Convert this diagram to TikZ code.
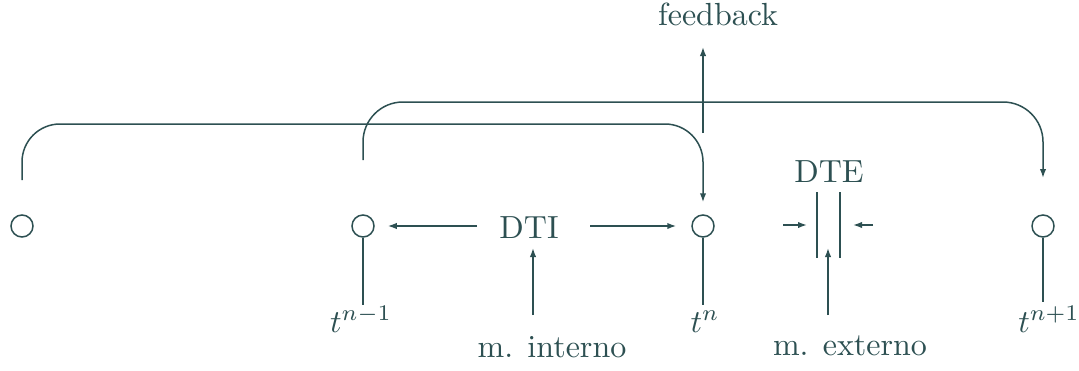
\documentclass[tikz,border=0pt]{standalone}
\usetikzlibrary{arrows.meta}
\definecolor{ink}{RGB}{45,80,82}
\begin{document}
\begin{tikzpicture}[x=0.5pt,y=-0.5pt,
  line width=0.75pt, draw=ink, text=ink,
  pt/.style={circle,draw=ink,minimum size=11pt,inner sep=0pt},
  lbl/.style={font=\normalsize,scale=1.6,inner sep=0pt,anchor=base},
  arr/.style={-{Latex[length=4.5pt,width=3.2pt]}}]
\useasboundingbox (0,0) rectangle (1079,370);
% time points
\node[pt] (c0) at (22,226) {};
\node[pt] (c1) at (363,226) {};
\node[pt] (c2) at (703,226) {};
\node[pt] (c3) at (1043,226) {};
% labels
\node[lbl] (t1) at (361,332) {$t^{n-1}$};
\node[lbl] (t2) at (705,332) {$t^{n}$};
\node[lbl] (t3) at (1049,332) {$t^{n+1}$};
\node[lbl] (dti) at (529,238) {DTI};
\node[lbl] (dte) at (829,182) {DTE};
\node[lbl] (mi) at (552,357) {m. interno};
\node[lbl] (me) at (850,355) {m. externo};
\node[lbl] (fb) at (718,25) {feedback};
% ticks below points
\draw[ink] (c1.south) -- (363,305);
\draw[ink] (c2.south) -- (703,305);
\draw[ink] (c3.south) -- (1043,302);
% long connectors
\coordinate (a0) at (22,180);
\coordinate (a1) at (363,160);
\draw[ink,arr,rounded corners=19pt,shorten >=6pt] (a0) -- (22,124) -- (703,124) -- (c2.north);
\draw[ink,arr,rounded corners=20pt] (a1) -- (363,102) -- (1043,102) -- (1043,178);
% feedback
\coordinate (f0) at (703,133);
\draw[ink,arr] (f0) -- (703,47);
% DTI arrows
\draw[ink,arr,shorten >=6.5pt] (477,226) -- (c1.east);
\draw[ink,arr,shorten >=7.5pt] (590,226) -- (c2.west);
\coordinate (mi0) at (533,315);
\draw[ink,arr] (mi0) -- (533,248);
% DTE
\coordinate (p1a) at (817,192);
\coordinate (p1b) at (817,258);
\coordinate (p2a) at (840,192);
\coordinate (p2b) at (840,258);
\draw[ink] (p1a) -- (p1b);
\draw[ink] (p2a) -- (p2b);
\draw[ink,arr] (783,225) -- (807,225);
\draw[ink,arr] (873,225) -- (853,225);
\coordinate (me0) at (828,315);
\draw[ink,arr] (me0) -- (828,248);
\end{tikzpicture}
\end{document}
